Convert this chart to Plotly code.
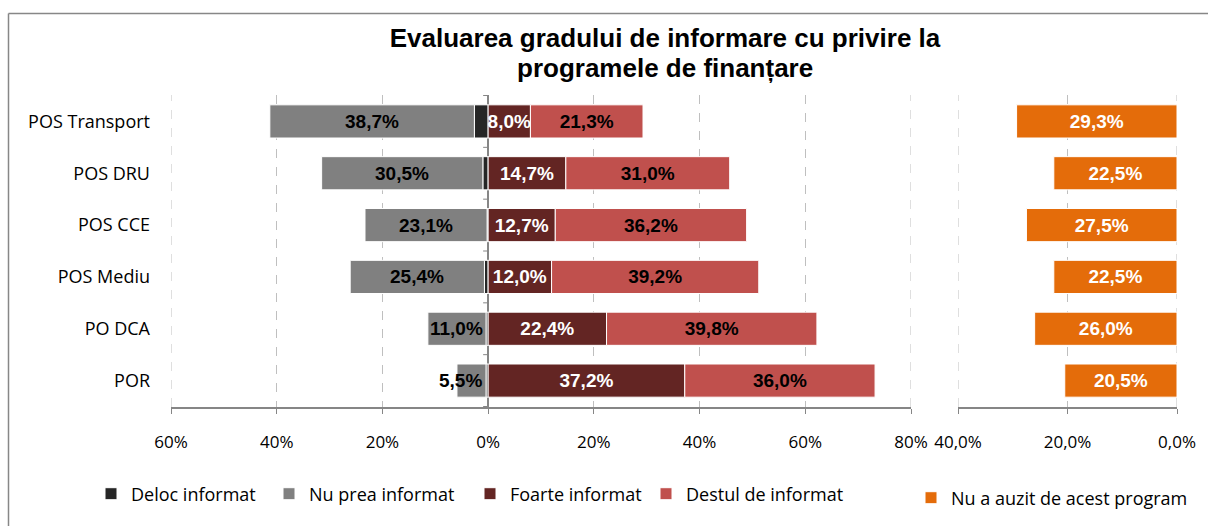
import plotly.graph_objects as go

categories = ["POS Transport", "POS DRU", "POS CCE", "POS Mediu", "PO DCA", "POR"]
deloc = [2.6, 1.0, 0.2, 0.7, 0.4, 0.4]
nu_prea = [38.7, 30.5, 23.1, 25.4, 11.0, 5.5]
foarte = [8.0, 14.7, 12.7, 12.0, 22.4, 37.2]
destul = [21.3, 31.0, 36.2, 39.2, 39.8, 36.0]
nu_auzit = [29.3, 22.5, 27.5, 22.5, 26.0, 20.5]

left_ticks = [-60, -40, -20, 0, 20, 40, 60, 80]
left_ticktext = ["60%", "40%", "20%", "0%", "20%", "40%", "60%", "80%"]
right_ticks = [40, 20, 0]
right_ticktext = ["40,0%", "20,0%", "0,0%"]
title_lines = ["Evaluarea gradului de informare cu privire la", "programele de finanțare"]

C_DELOC = "#262626"
C_NUPREA = "#808080"
C_FOARTE = "#632523"
C_DESTUL = "#C0504D"
C_AUZIT = "#E46C0A"
C_AXIS = "#868686"
C_GRID = "#BFBFBF"


def fmt(v):
    return f"{v:.1f}".replace(".", ",") + "%"


LBL = dict(family="Liberation Sans, Arial", size=19)
BW = 0.64

FW, FH = 1208, 526
L, R, T, B = 171, FW - 1177, 95, FH - 407
pw = FW - L - R
ph = FH - T - B


def px_x(p):
    return (p - L) / pw


def px_y(p):
    return (FH - B - p) / ph


def cx(p):
    return p / FW


def cy(p):
    return 1 - p / FH


# legend placement (one legend per entry, as in the reference)
LEG_Y = 494
LEG2_Y = 498
leg_text_x = {"legend": 131, "legend3": 309, "legend4": 510, "legend5": 686, "legend2": 951}

fig = go.Figure()
fig.add_trace(go.Bar(
    name="Deloc informat", y=categories, x=[-v for v in deloc], orientation="h",
    marker=dict(color=C_DELOC, line=dict(color="white", width=1)), width=BW,
    xaxis="x", yaxis="y", legend="legend", hoverinfo="skip"))
fig.add_trace(go.Bar(
    name="Nu prea informat", y=categories, x=[-v for v in nu_prea], orientation="h",
    marker=dict(color=C_NUPREA, line=dict(color="white", width=1)), width=BW,
    xaxis="x", yaxis="y", legend="legend3", hoverinfo="skip"))
fig.add_trace(go.Bar(
    name="Foarte informat", y=categories, x=foarte, orientation="h",
    marker=dict(color=C_FOARTE, line=dict(color="white", width=1)), width=BW,
    text=[f"<b>{fmt(v)}</b>" for v in foarte], textposition="inside",
    insidetextanchor="middle", textangle=0,
    textfont=dict(color="white", **LBL),
    xaxis="x", yaxis="y", legend="legend4", hoverinfo="skip"))
fig.add_trace(go.Bar(
    name="Destul de informat", y=categories, x=destul, orientation="h",
    marker=dict(color=C_DESTUL, line=dict(color="white", width=1)), width=BW,
    text=[f"<b>{fmt(v)}</b>" for v in destul], textposition="inside",
    insidetextanchor="middle", textangle=0,
    textfont=dict(color="black", **LBL),
    xaxis="x", yaxis="y", legend="legend5", hoverinfo="skip"))
fig.add_trace(go.Bar(
    name="Nu a auzit de acest program", y=categories, x=nu_auzit, orientation="h",
    marker=dict(color=C_AUZIT, line=dict(color="white", width=1)), width=BW,
    text=[f"<b>{fmt(v)}</b>" for v in nu_auzit], textposition="inside",
    insidetextanchor="middle", textangle=0,
    textfont=dict(color="white", **LBL),
    xaxis="x2", yaxis="y", legend="legend2", hoverinfo="skip"))

# labels of the "Nu prea informat" bars (small bars: label aligned to inner end)
annotations = []
for cat, d, n in zip(categories, deloc, nu_prea):
    small = n < 9
    annotations.append(dict(
        x=-(d + (0 if small else n / 2)), y=cat, xref="x", yref="y",
        text=f"<b>{fmt(n)}</b>", showarrow=False,
        xanchor="right" if small else "center", xshift=-2 if small else 0,
        font=dict(color="black", **LBL)))

annotations.append(dict(
    x=px_x(665), y=px_y(68), xref="paper", yref="paper",
    text=f"<b>{title_lines[1]}</b>", showarrow=False, xanchor="center", yanchor="middle",
    font=dict(family="Liberation Sans, Arial", size=26, color="black")))

tickfont = dict(family="Open Sans", size=17, color="black")
axis_common = dict(
    showgrid=True, gridcolor=C_GRID, griddash="dash", gridwidth=1,
    showline=True, linecolor=C_AXIS, linewidth=1.5,
    ticks="outside", ticklen=5, tickcolor=C_AXIS, tickwidth=1,
    tickfont=tickfont, ticklabelstandoff=14, fixedrange=True,
)

legend_font = dict(family="Open Sans", size=18, color="black")
legends = {}
for key, tx in leg_text_x.items():
    legends[key] = dict(
        orientation="h", xref="container", yref="container",
        x=cx(tx - 40), xanchor="left",
        y=cy(LEG2_Y if key == "legend2" else LEG_Y), yanchor="middle",
        font=legend_font, bgcolor="rgba(0,0,0,0)",
    )

# chart frame: only its top and left edges fall inside the picture
frame = dict(color="#878787", width=1.5)
shapes = [
    dict(type="line", xref="paper", yref="paper",
         x0=px_x(8.5), x1=px_x(1240), y0=px_y(13.5), y1=px_y(13.5), line=frame, layer="below"),
    dict(type="line", xref="paper", yref="paper",
         x0=px_x(8.5), x1=px_x(8.5), y0=px_y(13.5), y1=px_y(560), line=frame, layer="below"),
]
# dashed gridlines at the range ends (plotly omits these)
for xr, v in [("x", left_ticks[0]), ("x", left_ticks[-1]), ("x2", right_ticks[0]), ("x2", right_ticks[-1])]:
    shapes.append(dict(
        type="line", xref=xr, yref="paper", x0=v, x1=v, y0=0, y1=1,
        line=dict(color=C_GRID, width=1, dash="dash"), layer="below"))
# category-boundary tick marks on the zero axis
for i in range(len(categories) + 1):
    shapes.append(dict(
        type="line", xref="x", yref="y", xsizemode="pixel", xanchor=0,
        x0=-5, x1=0, y0=i - 0.5, y1=i - 0.5,
        line=dict(color=C_AXIS, width=1)))

fig.update_layout(
    width=FW, height=FH,
    margin=dict(l=L, r=R, t=T, b=B),
    paper_bgcolor="white", plot_bgcolor="white",
    barmode="relative",
    title=dict(
        text=f"<b>{title_lines[0]}</b>",
        font=dict(family="Liberation Sans, Arial", size=26, color="black"),
        x=cx(665), xanchor="center", xref="container",
        y=cy(38), yanchor="middle", yref="container",
    ),
    xaxis=dict(
        domain=[0, px_x(911)], range=[-60, 80],
        tickmode="array", tickvals=left_ticks, ticktext=left_ticktext,
        zeroline=True, zerolinecolor=C_AXIS, zerolinewidth=1.5,
        anchor="y", **axis_common,
    ),
    xaxis2=dict(
        domain=[px_x(958), 1], range=[40, 0],
        tickmode="array", tickvals=right_ticks, ticktext=right_ticktext,
        zeroline=False, anchor="y", **axis_common,
    ),
    yaxis=dict(
        categoryorder="array", categoryarray=categories[::-1],
        showgrid=False, showline=False, zeroline=False,
        ticks="", tickfont=dict(family="Open Sans", size=18, color="black"),
        ticklabelstandoff=20, fixedrange=True,
    ),
    uniformtext=dict(minsize=19, mode="show"),
    showlegend=True,
    annotations=annotations,
    shapes=shapes,
    **legends,
)

fig.write_html(
    "out.html",
    config={"displayModeBar": False, "staticPlot": True},
    post_script="document.body.style.margin='0px';"
                "document.body.style.overflow='hidden';"
                "document.documentElement.style.overflow='hidden';",
)
